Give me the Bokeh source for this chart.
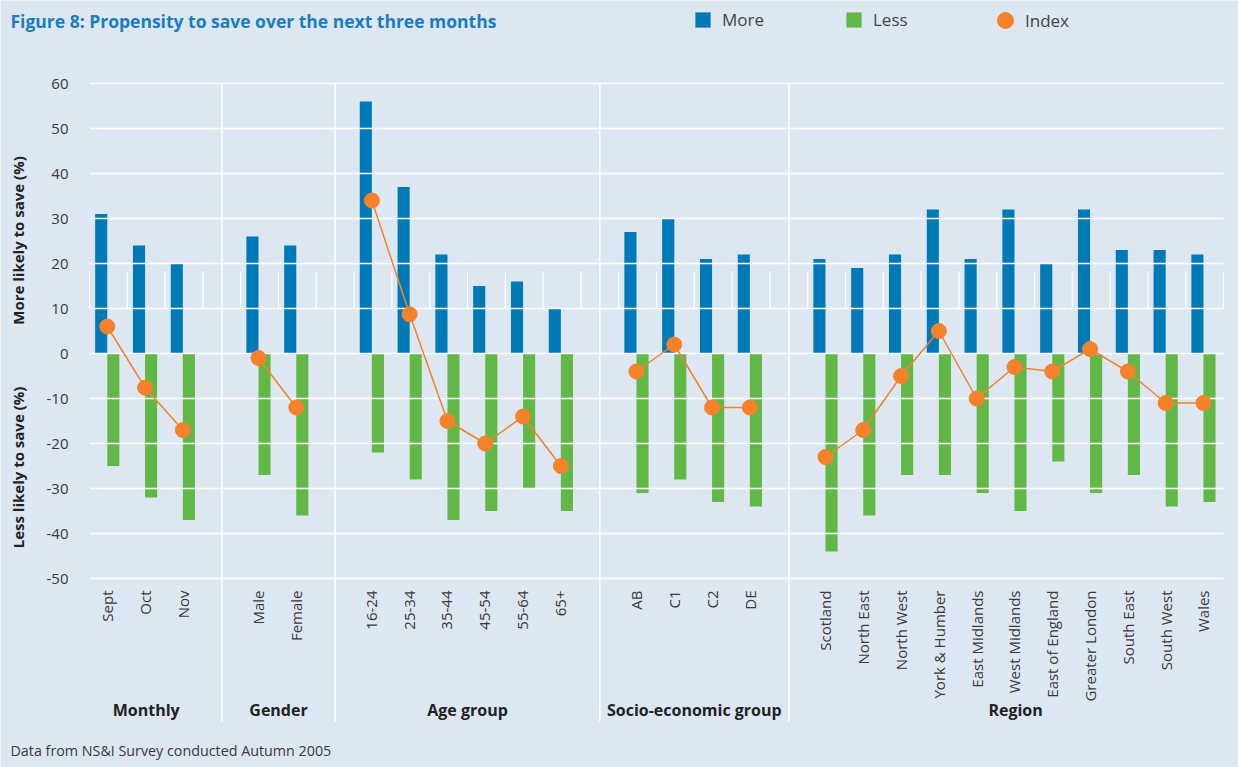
from math import pi, nan
from bokeh.plotting import figure
from bokeh.models import Range1d, Label, Legend, LegendItem, ColumnDataSource
from bokeh.core.properties import value
from bokeh.embed import file_html
from bokeh.resources import INLINE

# ---------------- data ----------------
group_names = ["Monthly", "Gender", "Age group", "Socio-economic group", "Region"]

monthly = ["Sept", "Oct", "Nov"]
gender = ["Male", "Female"]
age = ["16-24", "25-34", "35-44", "45-54", "55-64", "65+"]
socio = ["AB", "C1", "C2", "DE"]
region = ["Scotland", "North East", "North West", "York & Humber", "East Midlands",
          "West Midlands", "East of England", "Greater London", "South East",
          "South West", "Wales"]

more_monthly = [31, 24, 20]
less_monthly = [-25, -32, -37]
index_monthly = [6, -7.6, -17]

more_gender = [26, 24]
less_gender = [-27, -36]
index_gender = [-1, -12]

more_age = [56, 37, 22, 15, 16, 10]
less_age = [-22, -28, -37, -35, -30, -35]
index_age = [34, 8.7, -15, -20, -14, -25]

more_socio = [27, 30, 21, 22]
less_socio = [-31, -28, -33, -34]
index_socio = [-4, 2, -12, -12]

more_region = [21, 19, 22, 32, 21, 32, 20, 32, 23, 23, 22]
less_region = [-44, -36, -27, -27, -31, -35, -24, -31, -27, -34, -33]
index_region = [-23, -17, -5, 5, -10, -3, -4, 1, -4, -11, -11]

y_ticks = [-50, -40, -30, -20, -10, 0, 10, 20, 30, 40, 50, 60]

title_text = "Figure 8: Propensity to save over the next three months"
footer_text = "Data from NS&I Survey conducted Autumn 2005"
more_axis_title = "More likely to save (%)"
less_axis_title = "Less likely to save (%)"

# ---------------- styling ----------------
W, H = 1238, 767
PLOT_LEFT, PLOT_RIGHT = 89, 1223      # pixel span of the category slots
ZERO_Y, PX_PER_UNIT = 353, 4.5        # pixel row of value 0, pixels per unit

BG = "#dce7f2"
BLUE = "#0079b7"
GREEN = "#62b846"
ORANGE = "#f5822a"
TEXT = "#3a3a3a"
DARK = "#222222"
TITLE = "#1a7dbd"
FONT = "Open Sans"

groups = [
    (monthly, more_monthly, less_monthly, index_monthly),
    (gender, more_gender, less_gender, index_gender),
    (age, more_age, less_age, index_age),
    (socio, more_socio, less_socio, index_socio),
    (region, more_region, less_region, index_region),
]

# slot layout: one category per slot, one empty slot between groups
cats, centers, more, less, idx = [], [], [], [], []
line_x, line_y = [], []
group_centers, separators = [], []
start = 0
for gi, (c, m, l, ix) in enumerate(groups):
    xs = [start + i + 0.5 for i in range(len(c))]
    cats += c
    centers += xs
    more += m
    less += l
    idx += ix
    if gi > 0:
        line_x.append(nan)
        line_y.append(nan)
    line_x += [x - 0.03 for x in xs]
    line_y += ix
    group_centers.append(start + len(c) / 2)
    start += len(c)
    if gi < len(groups) - 1:
        separators.append(start + 0.5)
        start += 1
n_slots = start

slot_px = (PLOT_RIGHT - PLOT_LEFT) / n_slots
def px_x(px):  # pixel column -> data x
    return (px - PLOT_LEFT) / slot_px
def px_y(py):  # pixel row -> data y
    return (ZERO_Y - py) / PX_PER_UNIT

OFF = 0.03
BW = 0.32
src = ColumnDataSource(dict(
    cat=cats,
    xc=[x - OFF for x in centers],
    xm=[x - OFF - BW / 2 for x in centers],
    xl=[x - OFF + BW / 2 for x in centers],
    more=more, less=less, idx=idx,
))

p = figure(width=W, height=H, output_backend="svg", toolbar_location=None,
           x_range=Range1d(px_x(0), px_x(W)), y_range=Range1d(px_y(H), px_y(0)),
           x_axis_location=None, y_axis_location=None, min_border=0, title=None)
p.background_fill_color = BG
p.border_fill_color = BG
p.outline_line_color = None
p.grid.visible = False

# y tick labels
p.text(x=[px_x(68)] * len(y_ticks), y=y_ticks, text=[str(t) for t in y_ticks],
       text_align="right", text_baseline="middle",
       text_font=value(FONT), text_font_size="15px", text_color=TEXT)

# short boundary ticks
bounds = list(range(n_slots + 1))
p.segment(x0=bounds, x1=bounds, y0=[10] * len(bounds), y1=[18.2] * len(bounds),
          line_color="white", line_width=1.2)

# bars
r_more = p.vbar(x="xm", width=BW, top="more", bottom=0, source=src,
                fill_color=BLUE, line_color=None)
r_less = p.vbar(x="xl", width=BW, top=0, bottom="less", source=src,
                fill_color=GREEN, line_color=None)

# horizontal grid lines over bars
p.segment(x0=[0] * len(y_ticks), x1=[n_slots] * len(y_ticks), y0=y_ticks, y1=y_ticks,
          line_color="white", line_width=1.5)

# group separators
p.segment(x0=separators, x1=separators, y0=[60] * len(separators),
          y1=[px_y(721)] * len(separators), line_color="white", line_width=1.5)

# index line + dots
p.line(x=line_x, y=line_y, line_color=ORANGE, line_width=1.5)
r_idx = p.scatter(x="xc", y="idx", source=src, size=15, marker="circle",
                  fill_color=ORANGE, line_color=ORANGE)

# category labels
p.text(x="xc", y=px_y(590), text="cat", source=src, angle=pi / 2,
       text_align="right", text_baseline="middle",
       text_font=value(FONT), text_font_size="15px", text_color=TEXT)

# group labels
p.text(x=group_centers, y=[px_y(709)] * len(group_centers), text=group_names,
       text_align="center", text_baseline="middle",
       text_font=value(FONT), text_font_size="16px", text_font_style="bold",
       text_color=DARK)

# axis titles
p.add_layout(Label(x=px_x(17), y=px_y(240), text=more_axis_title, angle=pi / 2,
                   text_align="center", text_baseline="middle", text_font=FONT,
                   text_font_size="15px", text_font_style="bold", text_color=DARK))
p.add_layout(Label(x=px_x(17), y=px_y(467), text=less_axis_title, angle=pi / 2,
                   text_align="center", text_baseline="middle", text_font=FONT,
                   text_font_size="15px", text_font_style="bold", text_color=DARK))

# title and footer
p.add_layout(Label(x=px_x(10), y=px_y(20), text=title_text, text_align="left",
                   text_baseline="middle", text_font=FONT, text_font_size="17.5px",
                   text_font_style="bold", text_color=TITLE))
p.add_layout(Label(x=px_x(10), y=px_y(750), text=footer_text, text_align="left",
                   text_baseline="middle", text_font=FONT, text_font_size="14.3px",
                   text_color=TEXT))

# legends (location = bottom-left corner, pixels from the frame's bottom-left)
def make_legend(label, rend, left_px, bottom_px, gw, standoff):
    return Legend(items=[LegendItem(label=label, renderers=[rend])],
                  location=(left_px, H - bottom_px),
                  orientation="horizontal", glyph_width=gw, glyph_height=gw,
                  label_standoff=standoff, padding=0, spacing=0, margin=0,
                  border_line_color=None, background_fill_alpha=0,
                  label_text_font=FONT, label_text_font_size="17px",
                  label_text_color="#444444", label_height=gw)

p.add_layout(make_legend("More", r_more, 693, 31, 19, 10))
p.add_layout(make_legend("Less", r_less, 844, 31, 19, 10))
p.add_layout(make_legend("Index", r_idx, 985, 40, 40, 0))

open("out.html", "w").write(file_html(p, INLINE))
